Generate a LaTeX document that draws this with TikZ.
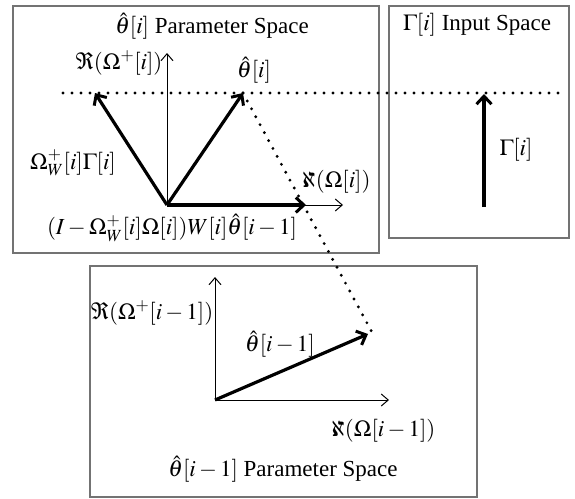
\documentclass[tikz,border=0pt]{standalone}
\usepackage{mathptmx}
\usepackage[no-math]{fontspec}
\setmainfont{Liberation Serif}
\usetikzlibrary{arrows.meta}
\tikzset{
  panel/.style={draw=black!55, line width=1.4pt},
  axis/.style={line width=0.9pt, -{Straight Barb[length=7pt,width=12pt,line width=1pt]}},
  vec/.style={line width=3.2pt, -{Straight Barb[length=8pt,width=15pt,line width=3pt]}},
  dots/.style={line width=3.2pt, line cap=round, dash pattern=on 0pt off 9pt},
  lbl/.style={inner sep=1pt, font=\fontsize{23}{26}\selectfont}
}
\begin{document}
\begin{tikzpicture}[x=1pt,y=-1pt]
\useasboundingbox (0,0) rectangle (575,498);
% panels
\draw[panel] (13,6) rectangle (379,253);
\draw[panel] (389,6) rectangle (569,238);
\draw[panel] (90,266) rectangle (477,497);
% coordinates top-left panel
\coordinate (O1) at (167,205);
\coordinate (R1) at (167,53);
\coordinate (N1) at (343,205);
\coordinate (A) at (95,93);
\coordinate (B) at (243,93);
\coordinate (C) at (306,205);
\coordinate (D0) at (63,93);
\coordinate (D1) at (560,93);
% input space
\coordinate (G0) at (484,207);
\coordinate (G1) at (484,94);
% bottom panel
\coordinate (O2) at (215,400);
\coordinate (R2) at (215,277);
\coordinate (N2) at (389,400);
\coordinate (E) at (368,334);
\coordinate (F) at (374,336);
% dotted
\draw[dots] (D0) -- (D1);
\draw[dots] (B) -- (F);
% axes
\draw[axis] (O1) -- (R1);
\draw[axis] (O1) -- (N1);
\draw[axis] (O2) -- (R2);
\draw[axis] (O2) -- (N2);
% vectors
\draw[vec] (O1) -- (A);
\draw[vec] (O1) -- (B);
\draw[vec] (O1) -- (C);
\draw[vec] (G0) -- (G1);
\draw[vec] (O2) -- (E);
% labels
\node[lbl] (t1) at (212,26) {$\hat{\theta}[i]$ Parameter Space};
\node[lbl] (t2) at (477,25) {$\Gamma[i]$ Input Space};
\node[lbl] (t3) at (283,469) {$\hat{\theta}[i-1]$ Parameter Space};
\node[lbl] (l1) at (119,63) {$\Re(\Omega^{+}[i])$};
\node[lbl] (l2) at (254,70) {$\hat{\theta}[i]$};
\node[lbl] (l3) at (73,163) {$\Omega_{W}^{+}[i]\Gamma[i]$};
\node[lbl] (l4) at (335,182) {$\aleph\!(\Omega[i])$};
\node[lbl] (l5) at (172,228) {$(I-\Omega_{W}^{+}[i]\Omega[i])W[i]\hat{\theta}[i-1]$};
\node[lbl] (l6) at (516,150) {$\Gamma[i]$};
\node[lbl] (l7) at (152,313) {$\Re(\Omega^{+}[i-1])$};
\node[lbl] (l8) at (280,344) {$\hat{\theta}[i-1]$};
\node[lbl] (l9) at (382,431) {$\aleph\!(\Omega[i-1])$};
\end{tikzpicture}
\end{document}
